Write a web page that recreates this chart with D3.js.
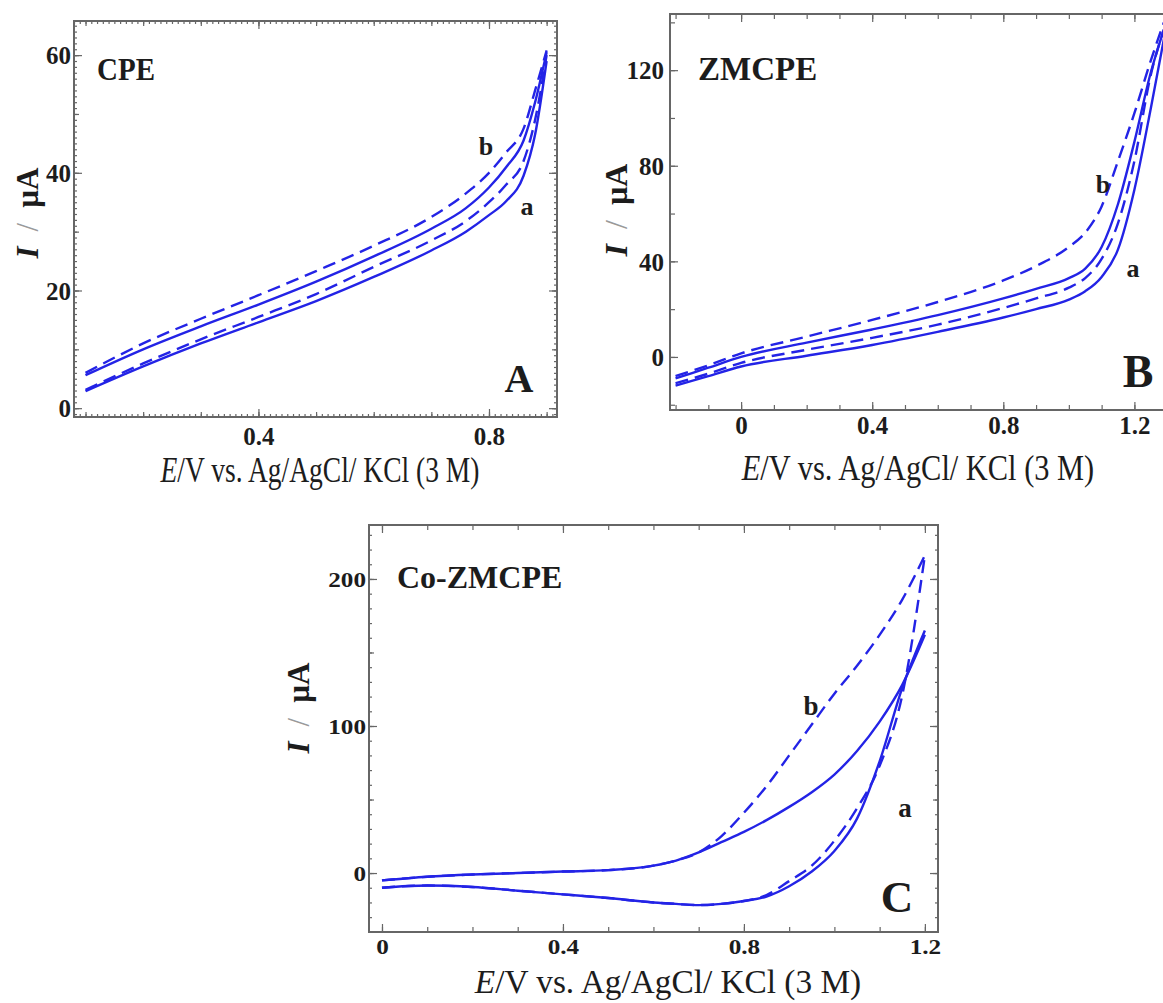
<!DOCTYPE html>
<html>
<head>
<meta charset="utf-8">
<script src="https://cdn.jsdelivr.net/npm/d3@7"></script>
<style>
body { margin: 0; background: #fff; }
svg text { font-family: "Liberation Serif", "Times New Roman", serif; fill: #1c1c1c; }
</style>
</head>
<body>
<div id="chart"></div>
<script>
// values: E in V, I in µA
// a = solid loop, b = dashed loop; Fwd = upper (anodic) branch, Rev = lower branch

// panel A : CPE
var cpeE    = [0.1, 0.2, 0.3, 0.4, 0.5, 0.6, 0.7, 0.76, 0.8, 0.83, 0.86, 0.88, 0.9];
var cpeAFwd = [5.6, 10.0, 13.9, 17.6, 21.5, 25.8, 30.5, 34.0, 37.5, 41.0, 45.5, 52.0, 60.5];
var cpeARev = [2.9, 7.1, 11.0, 14.6, 18.2, 22.3, 26.8, 30.0, 32.8, 35.2, 39.5, 46.5, 59.0];
var cpeBFwd = [6.0, 11.0, 15.2, 19.2, 23.3, 27.6, 32.5, 36.5, 40.0, 43.5, 47.5, 54.0, 60.8];
var cpeBRev = [3.1, 7.6, 11.7, 15.5, 19.4, 24.0, 28.5, 31.8, 35.0, 38.0, 42.0, 49.0, 60.0];

// panel B : ZMCPE
var zmE    = [-0.2, -0.1, 0, 0.2, 0.4, 0.6, 0.8, 0.9, 1.0, 1.05, 1.1, 1.15, 1.2, 1.25, 1.29];
var zmAFwd = [-9, -4.5, 0, 6, 11.5, 17.5, 24.5, 28.5, 33, 37, 46, 64, 90, 119, 137];
var zmARev = [-12, -8, -4, 0.5, 5, 10.5, 16.5, 20, 24, 27.5, 33.5, 45, 70, 104, 133];
var zmBFwd = [-8, -3.5, 1.5, 8.5, 15.5, 23, 32, 38, 46, 52, 63, 82, 102, 124, 140];
var zmBRev = [-11, -7, -2.5, 3, 8, 13.5, 20.5, 24.5, 29, 33, 41, 56, 82, 118, 137];

// panel C : Co-ZMCPE
var coE    = [0, 0.1, 0.2, 0.3, 0.4, 0.5, 0.6, 0.65, 0.7, 0.75, 0.8, 0.85, 0.9, 0.95, 1.0, 1.05, 1.1, 1.15, 1.2];
var coAFwd = [-5, -2.5, -1, 0, 1, 2, 5, 8.5, 14, 21, 28, 36, 45, 55, 67, 83, 103, 128, 162];
var coARev = [-10, -8.5, -9.5, -12, -14.5, -17, -20, -21, -21.8, -21, -19, -16, -9, 1, 15, 37, 76, 126, 165];
var coBFwd = [-5, -2.5, -1, 0, 1, 2, 5, 8.5, 14, 25, 41, 59, 80, 101, 122, 141, 162, 186, 216];
var coBRev = [-10, -8.5, -9.5, -12, -14.5, -17, -20, -21, -21.8, -21, -19, -15, -5.5, 5, 22, 44, 73, 121, 216];

// tick labels
var cpeXTicks = [0.4, 0.8], cpeYTicks = [0, 20, 40, 60];
var zmXTicks = [0, 0.4, 0.8, 1.2], zmYTicks = [0, 40, 80, 120];
var coXTicks = [0, 0.4, 0.8, 1.2], coYTicks = [0, 100, 200];

var blue = "#2323e6";
var frameCol = "#666";

var svg = d3.select("#chart")
    .append("svg")
    .attr("width", 1163)
    .attr("height", 1003);

var panels = [
    {
        id: "A", name: "CPE", E: cpeE,
        series: [[cpeAFwd, false], [cpeARev, false], [cpeBFwd, true], [cpeBRev, true]],
        frame: {l: 74, r: 557, t: 21, b: 417},
        xDom: [0.08, 0.918], yDom: [-1.5, 65.8],
        xTicks: cpeXTicks, yTicks: cpeYTicks,
        xMid: 0.1, yMid: 10, xFine: 0.01, yFine: 1,
        tickFs: 25, tickSx: 1, xLabDy: 28, yLabDx: 3,
        titleFs: 32, titleSx: 0.86, titleDy: 65, titleX: 320,
        yTitleX: 27, yTitleY: 213, yTitleFs: 31,
        nameX: 97, nameY: 80, nameFs: 29, nameSy: 1.12,
        bX: 486, bY: 155, aX: 527, aY: 215, abFs: 26,
        bigX: 519, bigY: 392, bigFs: 40
    },
    {
        id: "B", name: "ZMCPE", E: zmE,
        series: [[zmAFwd, false], [zmARev, false], [zmBFwd, true], [zmBRev, true]],
        frame: {l: 670, r: 1177, t: 14, b: 410},
        xDom: [-0.217, 1.33], yDom: [-22.2, 143.5],
        xTicks: zmXTicks, yTicks: zmYTicks,
        xMid: 0.1, yMid: 20, xFine: 0, yFine: 0,
        tickFs: 25, tickSx: 1, xLabDy: 24, yLabDx: 6,
        titleFs: 32, titleSx: 0.95, titleDy: 70, titleX: 918,
        yTitleX: 616, yTitleY: 210, yTitleFs: 32,
        nameX: 698, nameY: 80, nameFs: 33, nameSy: 1,
        bX: 1103, bY: 193, aX: 1133, aY: 277, abFs: 26,
        bigX: 1138, bigY: 387, bigFs: 46
    },
    {
        id: "C", name: "Co-ZMCPE", E: coE,
        series: [[coAFwd, false], [coARev, false], [coBFwd, true], [coBRev, true]],
        frame: {l: 369, r: 938, t: 525, b: 932},
        xDom: [-0.0287, 1.229], yDom: [-40.1, 236.7],
        xTicks: coXTicks, yTicks: coYTicks,
        xMid: 0.1, yMid: 50, xFine: 0, yFine: 10,
        tickFs: 21, tickSx: 1.2, xLabDy: 22, yLabDx: 3,
        titleFs: 29, titleSx: 1.15, titleDy: 61, titleX: 668,
        yTitleX: 298, yTitleY: 708, yTitleFs: 31,
        nameX: 397, nameY: 588, nameFs: 32, nameSy: 1,
        bX: 811, bY: 715, aX: 905, aY: 817, abFs: 27,
        bigX: 897, bigY: 912, bigFs: 45
    }
];

function stepTicks(dom, step) {
    var lo = Math.ceil(dom[0] / step - 1e-9), hi = Math.floor(dom[1] / step + 1e-9);
    return d3.range(lo, hi + 1).map(function(k) { return +(k * step).toFixed(4); });
}

function label(g, x, y, str, fs, sy, anchor) {
    return g.append("text")
        .attr("transform", "translate(" + x + "," + y + ") scale(1," + sy + ")")
        .attr("text-anchor", anchor)
        .attr("font-weight", "bold")
        .attr("font-size", fs)
        .text(str);
}

panels.forEach(function(p) {
    var f = p.frame;
    var x = d3.scaleLinear().domain(p.xDom).range([f.l, f.r]);
    var y = d3.scaleLinear().domain(p.yDom).range([f.b, f.t]);
    var g = svg.append("g").attr("class", "panel-" + p.id);

    // ticks on all four sides, pointing inward
    function sideTicks(values, len, withLabels) {
        var defs = [
            [d3.axisBottom(x), "translate(0," + f.b + ")", true],
            [d3.axisTop(x), "translate(0," + f.t + ")", false],
            [d3.axisLeft(y), "translate(" + f.l + ",0)", true],
            [d3.axisRight(y), "translate(" + f.r + ",0)", false]
        ];
        defs.forEach(function(d, i) {
            var vals = i < 2 ? values[0] : values[1];
            if (!vals.length) return;
            var showText = withLabels && d[2];
            var ax = d[0].tickValues(vals).tickSize(-len)
                .tickFormat(showText ? function(v) { return String(v); } : "");
            var ag = g.append("g").attr("transform", d[1]).call(ax);
            ag.select(".domain").remove();
            ag.selectAll("line").attr("stroke", frameCol).attr("stroke-width", 1.2);
            if (showText) {
                ag.selectAll("text")
                    .attr("fill", "#1c1c1c")
                    .attr("font-family", "Liberation Serif, Times New Roman, serif")
                    .attr("font-weight", "bold")
                    .attr("font-size", p.tickFs);
                if (i === 0) {
                    ag.selectAll("text").attr("y", 0).attr("dy", 0)
                        .attr("transform", "translate(0," + p.xLabDy + ") scale(" + p.tickSx + ",1)");
                } else {
                    ag.selectAll("text").attr("x", 0).attr("dy", "0.35em")
                        .attr("transform", "translate(" + (-p.yLabDx) + ",0) scale(" + p.tickSx + ",1)");
                }
            } else {
                ag.selectAll("text").remove();
            }
        });
    }

    var xf = p.xFine ? stepTicks(p.xDom, p.xFine) : [];
    var yf = p.yFine ? stepTicks(p.yDom, p.yFine) : [];
    sideTicks([xf, yf], 3, false);
    sideTicks([stepTicks(p.xDom, p.xMid), stepTicks(p.yDom, p.yMid)], 5, false);
    sideTicks([p.xTicks, p.yTicks], 8, true);

    g.append("rect")
        .attr("x", f.l).attr("y", f.t)
        .attr("width", f.r - f.l).attr("height", f.b - f.t)
        .attr("fill", "none")
        .attr("stroke", frameCol)
        .attr("stroke-width", 2);

    // curves
    var clipId = "clip-" + p.id;
    g.append("clipPath").attr("id", clipId)
        .append("rect")
        .attr("x", f.l).attr("y", f.t - 20)
        .attr("width", f.r - f.l).attr("height", f.b - f.t + 20);

    var line = d3.line()
        .x(function(d) { return x(d[0]); })
        .y(function(d) { return y(d[1]); })
        .curve(d3.curveMonotoneX);

    var cg = g.append("g").attr("clip-path", "url(#" + clipId + ")");
    p.series.forEach(function(s) {
        cg.append("path")
            .datum(d3.zip(p.E, s[0]))
            .attr("d", line)
            .attr("fill", "none")
            .attr("stroke", blue)
            .attr("stroke-width", 2.4)
            .attr("stroke-linejoin", "round")
            .attr("stroke-dasharray", s[1] ? "13,7" : null);
    });

    // texts
    label(g, p.nameX, p.nameY, p.name, p.nameFs, p.nameSy, "start");
    label(g, p.bX, p.bY, "b", p.abFs, 1, "middle");
    label(g, p.aX, p.aY, "a", p.abFs, 1, "middle");
    label(g, p.bigX, p.bigY, p.id, p.bigFs, 1, "middle");

    var t = g.append("text")
        .attr("transform", "translate(" + p.titleX + "," + (f.b + p.titleDy) + ") scale(" + p.titleSx + ",1.15)")
        .attr("text-anchor", "middle")
        .attr("font-size", p.titleFs);
    t.append("tspan").attr("font-style", "italic").text("E");
    t.append("tspan").text("/V vs. Ag/AgCl/ KCl (3 M)");

    var yt = g.append("text")
        .attr("transform", "translate(" + p.yTitleX + "," + p.yTitleY + ") rotate(-90)")
        .attr("text-anchor", "middle")
        .attr("dominant-baseline", "central")
        .attr("font-size", p.yTitleFs)
        .attr("font-weight", "bold");
    yt.append("tspan").attr("font-style", "italic").text("I");
    yt.append("tspan").attr("dx", 15).attr("font-weight", "normal").style("fill", "#9a9a9a").text("/");
    yt.append("tspan").attr("dx", 15).text("µA");
});
</script>
</body>
</html>
